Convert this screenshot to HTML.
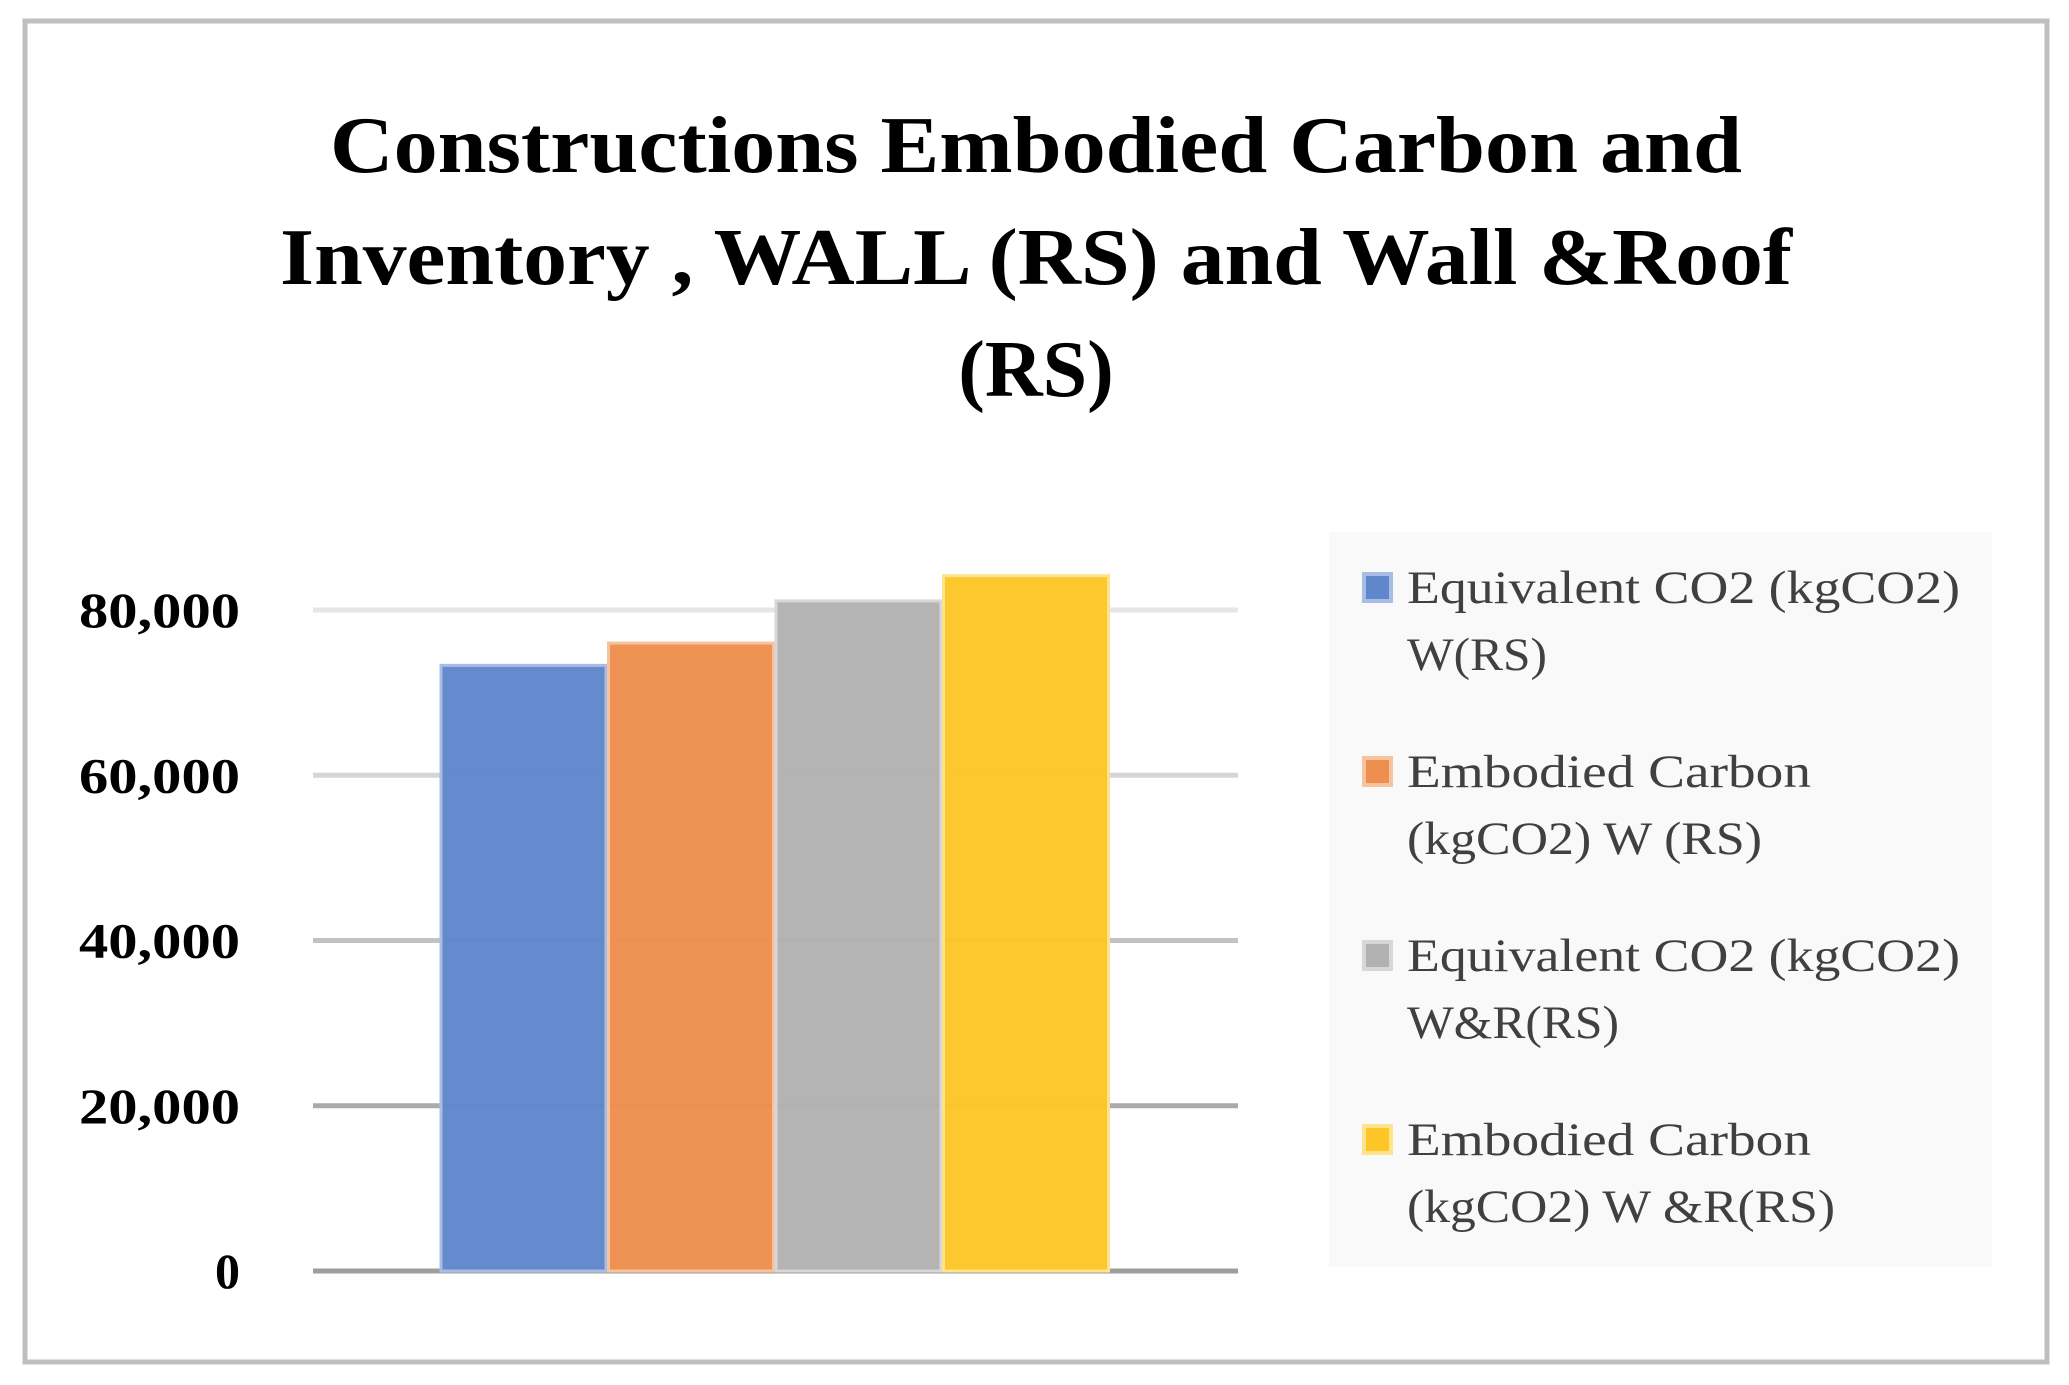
<!DOCTYPE html>
<html><head><meta charset="utf-8"><style>
html,body{margin:0;padding:0;background:#fff;}
svg{display:block;}
</style></head><body>
<svg width="2069" height="1385" viewBox="0 0 2069 1385" xmlns="http://www.w3.org/2000/svg">
<rect x="0" y="0" width="2069" height="1385" fill="#fff"/>
<rect x="25" y="21" width="2022" height="1341" fill="#fff" stroke="#bfbfbf" stroke-width="5"/>
<g font-family="Liberation Serif, serif" font-weight="bold" font-size="80" fill="#000" text-anchor="middle">
<text x="1036" y="172" textLength="1412" lengthAdjust="spacingAndGlyphs">Constructions Embodied Carbon and</text>
<text x="1036" y="284" textLength="1512" lengthAdjust="spacingAndGlyphs">Inventory , WALL (RS) and Wall &amp;Roof</text>
<text x="1036" y="396">(RS)</text>
</g>
<g id="grid"></g>
<g id="ylabels" font-family="Liberation Serif, serif" font-weight="bold" font-size="50" fill="#000" text-anchor="end"></g>
<g id="bars"></g>
<rect x="1329" y="532" width="663" height="735" fill="#f9f9f9"/>
<g id="legend" font-family="Liberation Serif, serif" font-size="47" fill="#404040"></g>
</svg>
<script>
const categories = ["Equivalent CO2 (kgCO2) W(RS)","Embodied Carbon (kgCO2) W (RS)","Equivalent CO2 (kgCO2) W&R(RS)","Embodied Carbon (kgCO2) W &R(RS)"];
const seriesValues = [73300, 76000, 81100, 84150];
const tickValues = [0, 20000, 40000, 60000, 80000];
const tickLabels = ["0","20,000","40,000","60,000","80,000"];
const legendLines = [["Equivalent CO2 (kgCO2)","W(RS)"],["Embodied Carbon","(kgCO2) W (RS)"],["Equivalent CO2 (kgCO2)","W&R(RS)"],["Embodied Carbon","(kgCO2) W &R(RS)"]];
const legendWidths = [[553,140],[404,355],[553,212],[404,428]];

const NS="http://www.w3.org/2000/svg";
const plotL=313, plotR=1238, y0=1271, yTop=610, vMax=80000;
function yScale(v){return y0-(v/vMax)*(y0-yTop);}
const barStart=441, barW=165, barGap=2.5;
function xScale(i){return barStart+i*(barW+barGap);}
const fills=["#6086cb","#ee8f50","#b2b2b2","#fdc626"];
const strokes=["#a9bde4","#f6c39f","#d7d7d7","#fde38d"];
const gridCols=["#9e9e9e","#aaaaaa","#c2c2c2","#d6d6d6","#e6e6e6"];

const grid=document.getElementById('grid');
const yl=document.getElementById('ylabels');
tickValues.forEach((t,i)=>{
  const l=document.createElementNS(NS,'line');
  l.setAttribute('x1',plotL);l.setAttribute('x2',plotR);
  l.setAttribute('y1',yScale(t));l.setAttribute('y2',yScale(t));
  l.setAttribute('stroke',gridCols[i]);l.setAttribute('stroke-width','5');
  
  
  grid.appendChild(l);
  const tx=document.createElementNS(NS,'text');
  tx.setAttribute('x',240);tx.setAttribute('y',yScale(t)+17);
  if(tickLabels[i].length>1){tx.setAttribute('textLength',161);tx.setAttribute('lengthAdjust','spacingAndGlyphs');}
  tx.textContent=tickLabels[i];
  
  
  yl.appendChild(tx);
});
const bars=document.getElementById('bars');
seriesValues.forEach((v,i)=>{
  const r=document.createElementNS(NS,'rect');
  r.setAttribute('x',xScale(i));r.setAttribute('y',yScale(v));
  r.setAttribute('width',barW);r.setAttribute('height',y0-yScale(v));
  r.setAttribute('fill',fills[i]);r.setAttribute('fill-opacity','0.97');
  r.setAttribute('stroke',strokes[i]);r.setAttribute('stroke-width','3');
  
  
  const tt=document.createElementNS(NS,'title');tt.textContent=categories[i]+': '+v;r.appendChild(tt);
  bars.appendChild(r);
});
const lg=document.getElementById('legend');
legendLines.forEach((ls,i)=>{
  const by=603+i*184;
  const g=document.createElementNS(NS,'g');
  
  
  const m=document.createElementNS(NS,'rect');
  m.setAttribute('x',1364);m.setAttribute('y',by-29);m.setAttribute('width',27);m.setAttribute('height',27);
  m.setAttribute('fill',fills[i]);m.setAttribute('stroke',strokes[i]);m.setAttribute('stroke-width','4');
  
  
  g.appendChild(m);
  ls.forEach((s,j)=>{
    const t=document.createElementNS(NS,'text');
    t.setAttribute('x',1407);t.setAttribute('y',by+j*67);
    t.setAttribute('textLength',legendWidths[i][j]);t.setAttribute('lengthAdjust','spacingAndGlyphs');
    t.textContent=s;
    
    
    g.appendChild(t);
  });
  lg.appendChild(g);
});
</script>
</body></html>
